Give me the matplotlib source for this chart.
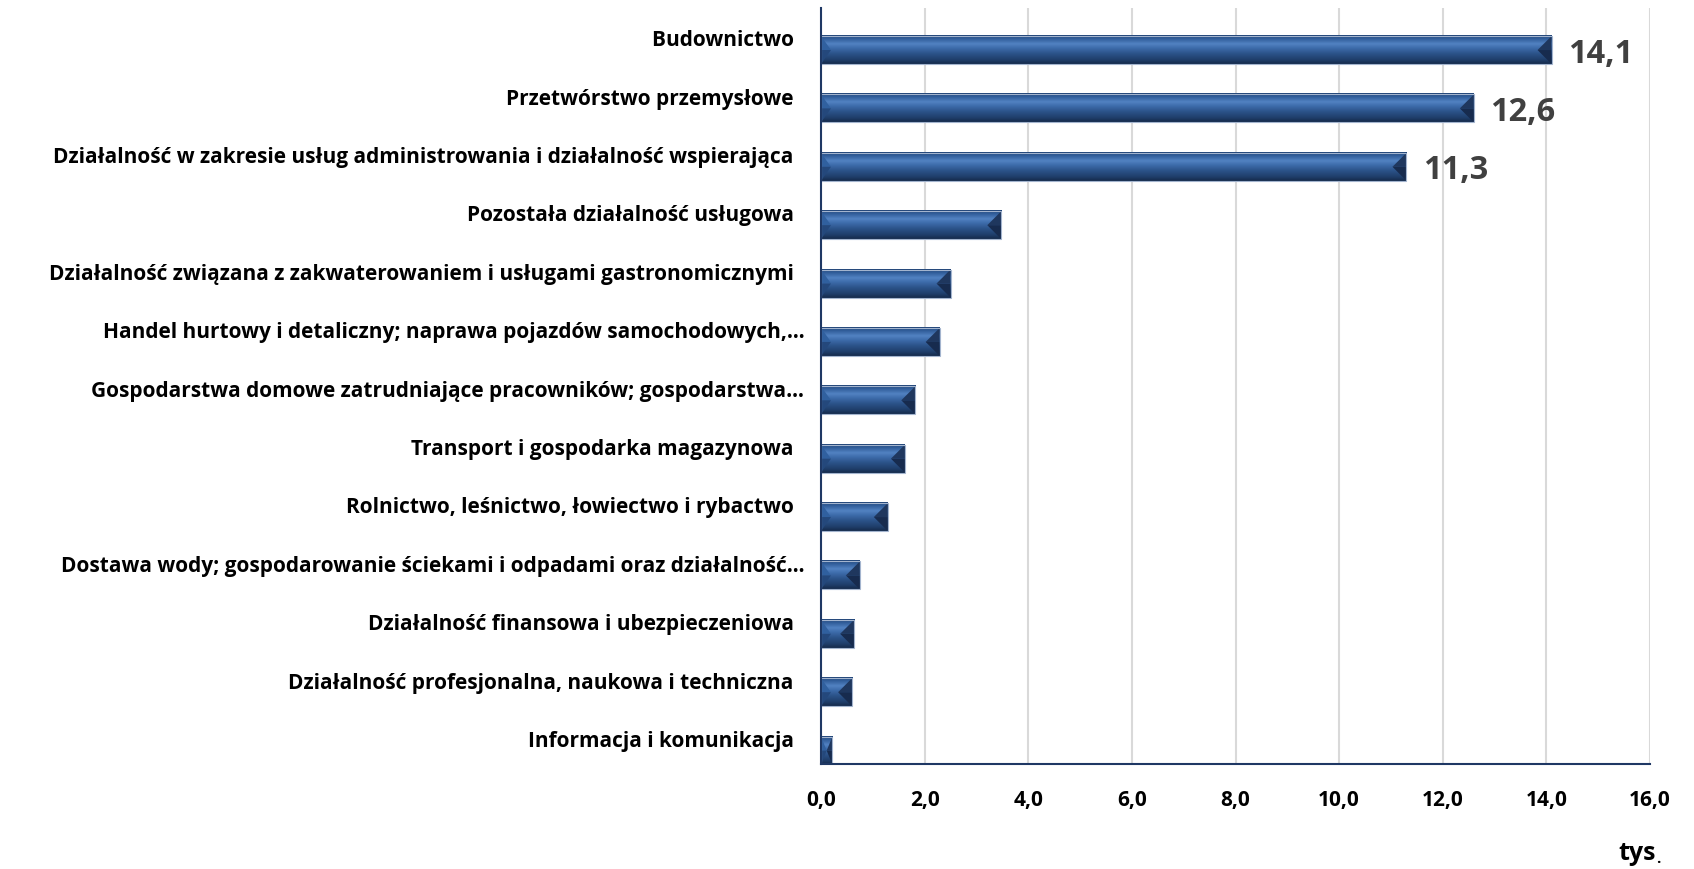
import matplotlib.pyplot as plt
import numpy as np
from matplotlib.patches import Polygon, Rectangle
from matplotlib.colors import LinearSegmentedColormap

plt.rcParams['font.family'] = ['Open Sans', 'DejaVu Sans']
plt.rcParams['font.weight'] = 'bold'

categories = [
    "Budownictwo  ",
    "Przetwórstwo przemysłowe  ",
    "Działalność w zakresie usług administrowania i działalność wspierająca  ",
    "Pozostała działalność usługowa  ",
    "Działalność związana z zakwaterowaniem i usługami gastronomicznymi  ",
    "Handel hurtowy i detaliczny; naprawa pojazdów samochodowych,…",
    "Gospodarstwa domowe zatrudniające pracowników; gospodarstwa…",
    "Transport i gospodarka magazynowa  ",
    "Rolnictwo, leśnictwo, łowiectwo i rybactwo  ",
    "Dostawa wody; gospodarowanie ściekami i odpadami oraz działalność…",
    "Działalność finansowa i ubezpieczeniowa  ",
    "Działalność profesjonalna, naukowa i techniczna  ",
    "Informacja i komunikacja  ",
]
values = [14.1, 12.6, 11.3, 3.48, 2.50, 2.29, 1.82, 1.62, 1.29, 0.75, 0.64, 0.60, 0.22]
value_labels = ["14,1", "12,6", "11,3"] + [""] * 10
xticks = [0, 2, 4, 6, 8, 10, 12, 14, 16]
xtick_labels = ["0,0", "2,0", "4,0", "6,0", "8,0", "10,0", "12,0", "14,0", "16,0"]

fig = plt.figure(figsize=(16.94, 8.69), dpi=100)
ax = fig.add_axes([821 / 1694, 1 - 764 / 869, 829 / 1694, 756 / 869])

pos = np.arange(len(categories))
bh = 0.48
bars = ax.barh(pos, values, height=bh, color='#2D5894', zorder=2)

ax.set_xlim(0, 16)
ax.set_ylim(12.23, -0.72)

# bevel look: vertical gradient + chamfered ends
grad = LinearSegmentedColormap.from_list('bev', [
    (0.0, '#1F4275'), (0.1, '#2E5A96'), (0.3, '#5282C2'),
    (0.45, '#3D6BAA'), (0.65, '#2B5288'), (0.85, '#203F6C'), (1.0, '#152B4C')])
g = grad(np.linspace(0, 1, 64))[:, None, :3]
ppu = 829 / 16
for b in bars:
    x0, y0, w, h = b.get_x(), b.get_y(), b.get_width(), b.get_height()
    ym = y0 + h / 2
    x1 = x0 + w
    ax.imshow(g, extent=[x0, x1, y0 + h, y0], origin='upper',
              aspect='auto', zorder=3, interpolation='bilinear')
    dl = min(10 / ppu, w / 2)
    dr = min(14 / ppu, w / 2)
    ax.add_patch(Polygon([(x0, y0), (x0 + dl, ym), (x0, ym)], closed=True,
                         facecolor='#30609F', edgecolor='none', zorder=4))
    ax.add_patch(Polygon([(x0, ym), (x0 + dl, ym), (x0, y0 + h)], closed=True,
                         facecolor='#24487C', edgecolor='none', zorder=4))
    ax.add_patch(Polygon([(x1, y0), (x1 - dr, ym), (x1, ym)], closed=True,
                         facecolor='#1F375E', edgecolor='none', zorder=4))
    ax.add_patch(Polygon([(x1, ym), (x1 - dr, ym), (x1, y0 + h)], closed=True,
                         facecolor='#172B4E', edgecolor='none', zorder=4))
    ax.add_patch(Rectangle((x0, y0), w, h, fill=False, edgecolor='#A3B4CE',
                           linewidth=0.8, zorder=5))

for b, lab in zip(bars, value_labels):
    if lab:
        ax.annotate(lab, (b.get_width(), b.get_y() + b.get_height() / 2),
                    xytext=(12, -3), textcoords='offset points',
                    ha='left', va='center', fontsize=23.5, color='#404040',
                    fontweight='bold')

ax.set_yticks(pos - 0.2)
ax.set_yticklabels(categories, fontsize=15)
ax.set_xticks(xticks)
ax.set_xticklabels(xtick_labels, fontsize=15)
ax.tick_params(axis='y', length=0, pad=12)
ax.tick_params(axis='x', length=0, pad=19)

ax.grid(axis='x', color='#D9D9D9', linewidth=1.5, zorder=0)
ax.set_axisbelow(True)
for s in ['top', 'right']:
    ax.spines[s].set_visible(False)
for s in ['left', 'bottom']:
    ax.spines[s].set_color('#1F3864')
    ax.spines[s].set_linewidth(1.5)
    ax.spines[s].set_zorder(6)

fig.text(1656 / 1694, 1 - 854 / 869, "tys", ha='right', va='center',
         fontsize=18, fontweight='bold', color='black')
fig.text(1656 / 1694, 1 - 859 / 869, ".", ha='left', va='center',
         fontsize=11, fontweight='bold', color='black')

fig.savefig('out.png', dpi=100, facecolor='white')
